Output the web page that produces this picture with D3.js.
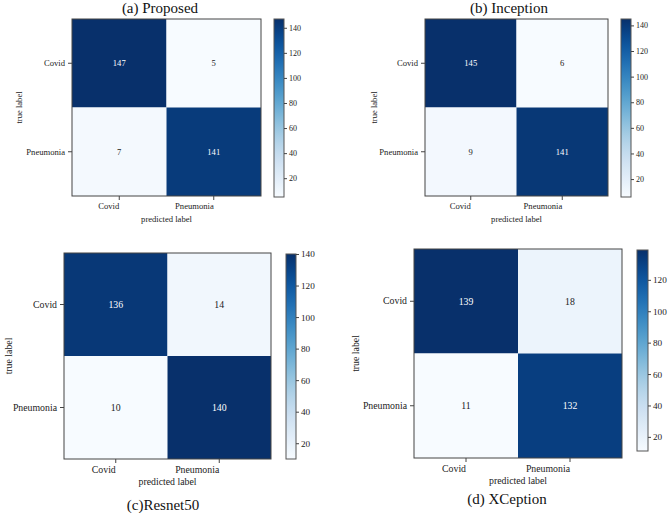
<!DOCTYPE html>
<html><head><meta charset="utf-8">
<script src="https://cdn.jsdelivr.net/npm/d3@7"></script>
<style>
html,body{margin:0;padding:0;background:#fff;}
svg{display:block;}
svg text{font-family:"Liberation Serif","Times New Roman",serif !important;fill:#222;}
</style></head>
<body>
<svg id="chart" width="669" height="513" font-family="Liberation Serif"></svg>
<script>
// ---- data ----
const classes = ["Covid", "Pneumonia"];
const titles = ["(a) Proposed", "(b) Inception", "(c)Resnet50", "(d) XCeption"];
const proposedValues = [[147, 5], [7, 141]];
const inceptionValues = [[145, 6], [9, 141]];
const resnetValues = [[136, 14], [10, 140]];
const xceptionValues = [[139, 18], [11, 132]];
const colorbarTicks = [20, 40, 60, 80, 100, 120, 140];
const axisXLabel = "predicted label";
const axisYLabel = "true label";

// ---- layout ----
const panels = [
  {values: proposedValues, title: titles[0], px: [72, 261], py: [19, 196], cx: [274, 284], cy: [19, 197], tx: 160, ty: 13, fs: 8.6, ylx: 19, tfs: 15},
  {values: inceptionValues, title: titles[1], px: [425, 608], py: [19, 196], cx: [621, 631], cy: [19, 197], tx: 509, ty: 13, fs: 8.6, ylx: 374, tfs: 15},
  {values: resnetValues, title: titles[2], px: [64, 271], py: [253, 459], cx: [286, 296], cy: [254, 459], tx: 163, ty: 510, fs: 9.8, ylx: 8, tfs: 15},
  {values: xceptionValues, title: titles[3], px: [414, 622], py: [249, 458], cx: [637, 648], cy: [250, 451], tx: 507, ty: 504, fs: 9.8, ylx: 355, tfs: 15}
];

const svg = d3.select("#chart");

panels.forEach((p, pi) => {
  const g = svg.append("g");
  const flat = p.values.flat();
  const vmin = d3.min(flat), vmax = d3.max(flat);
  const color = d3.scaleSequential(d3.interpolateBlues).domain([vmin, vmax]);
  const x = d3.scaleBand().domain(classes).range(p.px);
  const y = d3.scaleBand().domain(classes).range(p.py);
  const cells = [];
  classes.forEach((t, i) => classes.forEach((pr, j) => cells.push({t, pr, v: p.values[i][j]})));

  g.selectAll("rect.cell").data(cells).enter().append("rect")
    .attr("x", d => x(d.pr)).attr("y", d => y(d.t))
    .attr("width", x.bandwidth()).attr("height", y.bandwidth())
    .attr("fill", d => color(d.v));

  g.selectAll("text.val").data(cells).enter().append("text")
    .attr("x", d => x(d.pr) + x.bandwidth() / 2)
    .attr("y", d => y(d.t) + y.bandwidth() / 2)
    .attr("text-anchor", "middle").attr("dominant-baseline", "central")
    .style("font-size", p.fs + "px")
    .style("fill", d => d.v > (vmax + vmin) / 2 ? "#ffffff" : "#222")
    .text(d => d.v);

  // frame
  g.append("rect").attr("x", p.px[0]).attr("y", p.py[0])
    .attr("width", p.px[1] - p.px[0]).attr("height", p.py[1] - p.py[0])
    .attr("fill", "none").attr("stroke", "#444").attr("stroke-width", 1);

  // y axis
  const ya = g.append("g").attr("transform", `translate(${p.px[0]},0)`)
    .call(d3.axisLeft(y).tickSize(4).tickPadding(3));
  ya.attr("font-family", null);
  ya.select(".domain").remove();
  ya.selectAll("line").attr("stroke", "#444");
  ya.selectAll("text").style("font-size", p.fs + "px");

  // x axis (labels right-aligned to the tick)
  const xa = g.append("g").attr("transform", `translate(0,${p.py[1]})`)
    .call(d3.axisBottom(x).tickSize(4).tickPadding(3));
  xa.attr("font-family", null);
  xa.select(".domain").remove();
  xa.selectAll("line").attr("stroke", "#444");
  xa.selectAll("text").style("font-size", p.fs + "px").attr("text-anchor", "end");

  // axis labels
  g.append("text").attr("x", (p.px[0] + p.px[1]) / 2).attr("y", p.py[1] + 26)
    .attr("text-anchor", "middle").style("font-size", p.fs + "px").text(axisXLabel);
  g.append("text")
    .attr("transform", `translate(${p.ylx},${(p.py[0] + p.py[1]) / 2}) rotate(-90)`)
    .attr("text-anchor", "middle").attr("dominant-baseline", "central")
    .style("font-size", p.fs + "px").text(axisYLabel);

  // title
  g.append("text").attr("x", p.tx).attr("y", p.ty).attr("text-anchor", "middle")
    .style("font-size", p.tfs + "px").style("fill", "#111").text(p.title);

  // colorbar
  const gradId = "grad" + pi;
  const grad = svg.append("defs").append("linearGradient").attr("id", gradId)
    .attr("x1", "0").attr("y1", "1").attr("x2", "0").attr("y2", "0");
  d3.range(0, 1.0001, 0.05).forEach(t => {
    grad.append("stop").attr("offset", t).attr("stop-color", color(vmin + t * (vmax - vmin)));
  });
  const cs = d3.scaleLinear().domain([vmin, vmax]).range([p.cy[1], p.cy[0]]);
  g.append("rect").attr("x", p.cx[0]).attr("y", p.cy[0])
    .attr("width", p.cx[1] - p.cx[0]).attr("height", p.cy[1] - p.cy[0])
    .attr("fill", `url(#${gradId})`).attr("stroke", "#555").attr("stroke-width", 1);
  const ca = g.append("g").attr("transform", `translate(${p.cx[1]},0)`)
    .call(d3.axisRight(cs).tickValues(colorbarTicks.filter(v => v >= vmin && v <= vmax)).tickSize(3).tickPadding(2));
  ca.attr("font-family", null);
  ca.select(".domain").remove();
  ca.selectAll("line").attr("stroke", "#444");
  ca.selectAll("text").style("font-size", (p.fs - 0.6) + "px");
});
</script>
</body></html>
